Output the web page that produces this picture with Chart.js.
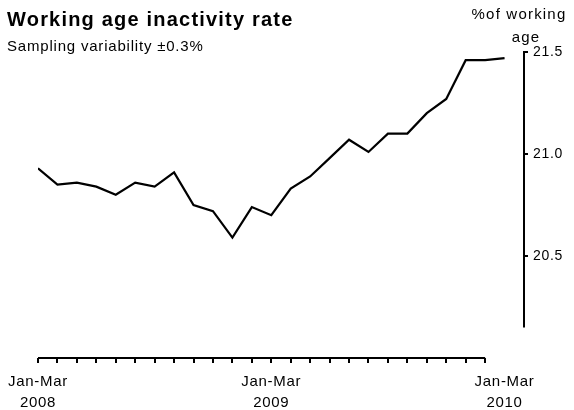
<!DOCTYPE html>
<html><head><meta charset="utf-8">
<script src="https://cdn.jsdelivr.net/npm/chart.js@4/dist/chart.umd.min.js"></script>
<style>html,body{margin:0;padding:0;background:#fff}#wrap{width:574px;height:410px;position:relative}</style>
</head><body><div id="wrap"><canvas id="c" width="574" height="410"></canvas></div>
<script>
const categories = ['Jan-Mar 2008','Feb-Apr 2008','Mar-May 2008','Apr-Jun 2008','May-Jul 2008','Jun-Aug 2008','Jul-Sep 2008','Aug-Oct 2008','Sep-Nov 2008','Oct-Dec 2008','Nov-Jan 2009','Dec-Feb 2009','Jan-Mar 2009','Feb-Apr 2009','Mar-May 2009','Apr-Jun 2009','May-Jul 2009','Jun-Aug 2009','Jul-Sep 2009','Aug-Oct 2009','Sep-Nov 2009','Oct-Dec 2009','Nov-Jan 2010','Dec-Feb 2010','Jan-Mar 2010'];
const inactivityRate = [20.93,20.85,20.86,20.84,20.80,20.86,20.84,20.91,20.75,20.72,20.59,20.74,20.70,20.83,20.89,20.98,21.07,21.01,21.10,21.10,21.20,21.27,21.46,21.46,21.47];
const xTickLabels = {0:['Jan-Mar','2008'],12:['Jan-Mar','2009'],24:['Jan-Mar','2010']};
const yTicks = [20.5, 21.0, 21.5];
const yScaleRange = [20.0, 21.5];
const yAxisLineRange = [20.15, 21.5];
const titleText = 'Working age inactivity rate';
const subtitleText = 'Sampling variability \u00b10.3%';
const unitLines = ['%of working', 'age'];

const FONT = '"Liberation Sans", Arial, sans-serif';

const decor = {
  id: 'decor',
  beforeDraw(chart) { chart.ctx.letterSpacing = '0.7px'; },
  beforeDatasetsDraw(chart) { chart.ctx.letterSpacing = '0px'; },
  afterDraw(chart) {
    const ctx = chart.ctx, xs = chart.scales.x, ys = chart.scales.y, ca = chart.chartArea;
    ctx.save();
    ctx.strokeStyle = '#000';
    ctx.lineWidth = 2;
    ctx.beginPath();
    ctx.moveTo(xs.getPixelForValue(0), ca.bottom);
    ctx.lineTo(xs.getPixelForValue(categories.length - 2), ca.bottom);
    ctx.stroke();
    ctx.beginPath();
    ctx.moveTo(ca.right, ys.getPixelForValue(yAxisLineRange[0]));
    ctx.lineTo(ca.right, ys.getPixelForValue(yAxisLineRange[1]) - 1);
    ctx.stroke();
    ctx.fillStyle = '#000';
    ctx.textBaseline = 'middle';
    ctx.textAlign = 'left';
    ctx.font = 'bold 20px ' + FONT;
    ctx.letterSpacing = '1.2px';
    ctx.fillText(titleText, 7, 20);
    ctx.font = '15px ' + FONT;
    ctx.letterSpacing = '0.8px';
    ctx.fillText(subtitleText, 7, 47);
    ctx.textAlign = 'center';
    ctx.letterSpacing = '1.2px';
    ctx.fillText(unitLines[0], 519, 15);
    ctx.fillText(unitLines[1], 526, 38);
    ctx.restore();
    ctx.letterSpacing = '0px';
  }
};

new Chart(document.getElementById('c'), {
  type: 'line',
  data: {
    datasets: [{
      label: 'Working age inactivity rate',
      data: inactivityRate.map((v, i) => ({x: i, y: v})),
      borderColor: '#000',
      borderWidth: 2.2,
      pointRadius: 0,
      tension: 0,
      fill: false
    }]
  },
  options: {
    responsive: false,
    animation: false,
    layout: {padding: {left: 38, right: 0, top: 52, bottom: 0}},
    plugins: {legend: {display: false}, tooltip: {enabled: false}, title: {display: false}},
    scales: {
      x: {
        type: 'linear',
        min: 0,
        max: categories.length,
        afterBuildTicks: s => { s.ticks = categories.map((_, i) => ({value: i})); },
        afterFit: s => { s.height = 52; },
        border: {display: false},
        grid: {
          drawOnChartArea: false, drawTicks: true, tickLength: 5, lineWidth: 2,
          color: c => (c.tick && c.tick.value > categories.length - 2) ? 'rgba(0,0,0,0)' : '#000'
        },
        ticks: {
          autoSkip: false, maxRotation: 0, minRotation: 0, padding: 8, color: '#000',
          font: {family: FONT, size: 15, lineHeight: '21px'},
          callback: v => xTickLabels[v] || ''
        }
      },
      y: {
        position: 'right',
        min: yScaleRange[0],
        max: yScaleRange[1],
        z: 1,
        afterBuildTicks: s => { s.ticks = yTicks.map(v => ({value: v})); },
        afterFit: s => { s.width = 50; },
        border: {display: false},
        grid: {drawOnChartArea: false, drawTicks: true, tickLength: 4, lineWidth: 2, color: '#000'},
        ticks: {padding: 5, color: '#000', font: {family: FONT, size: 14}, callback: v => v.toFixed(1)}
      }
    }
  },
  plugins: [decor]
});
</script></body></html>
